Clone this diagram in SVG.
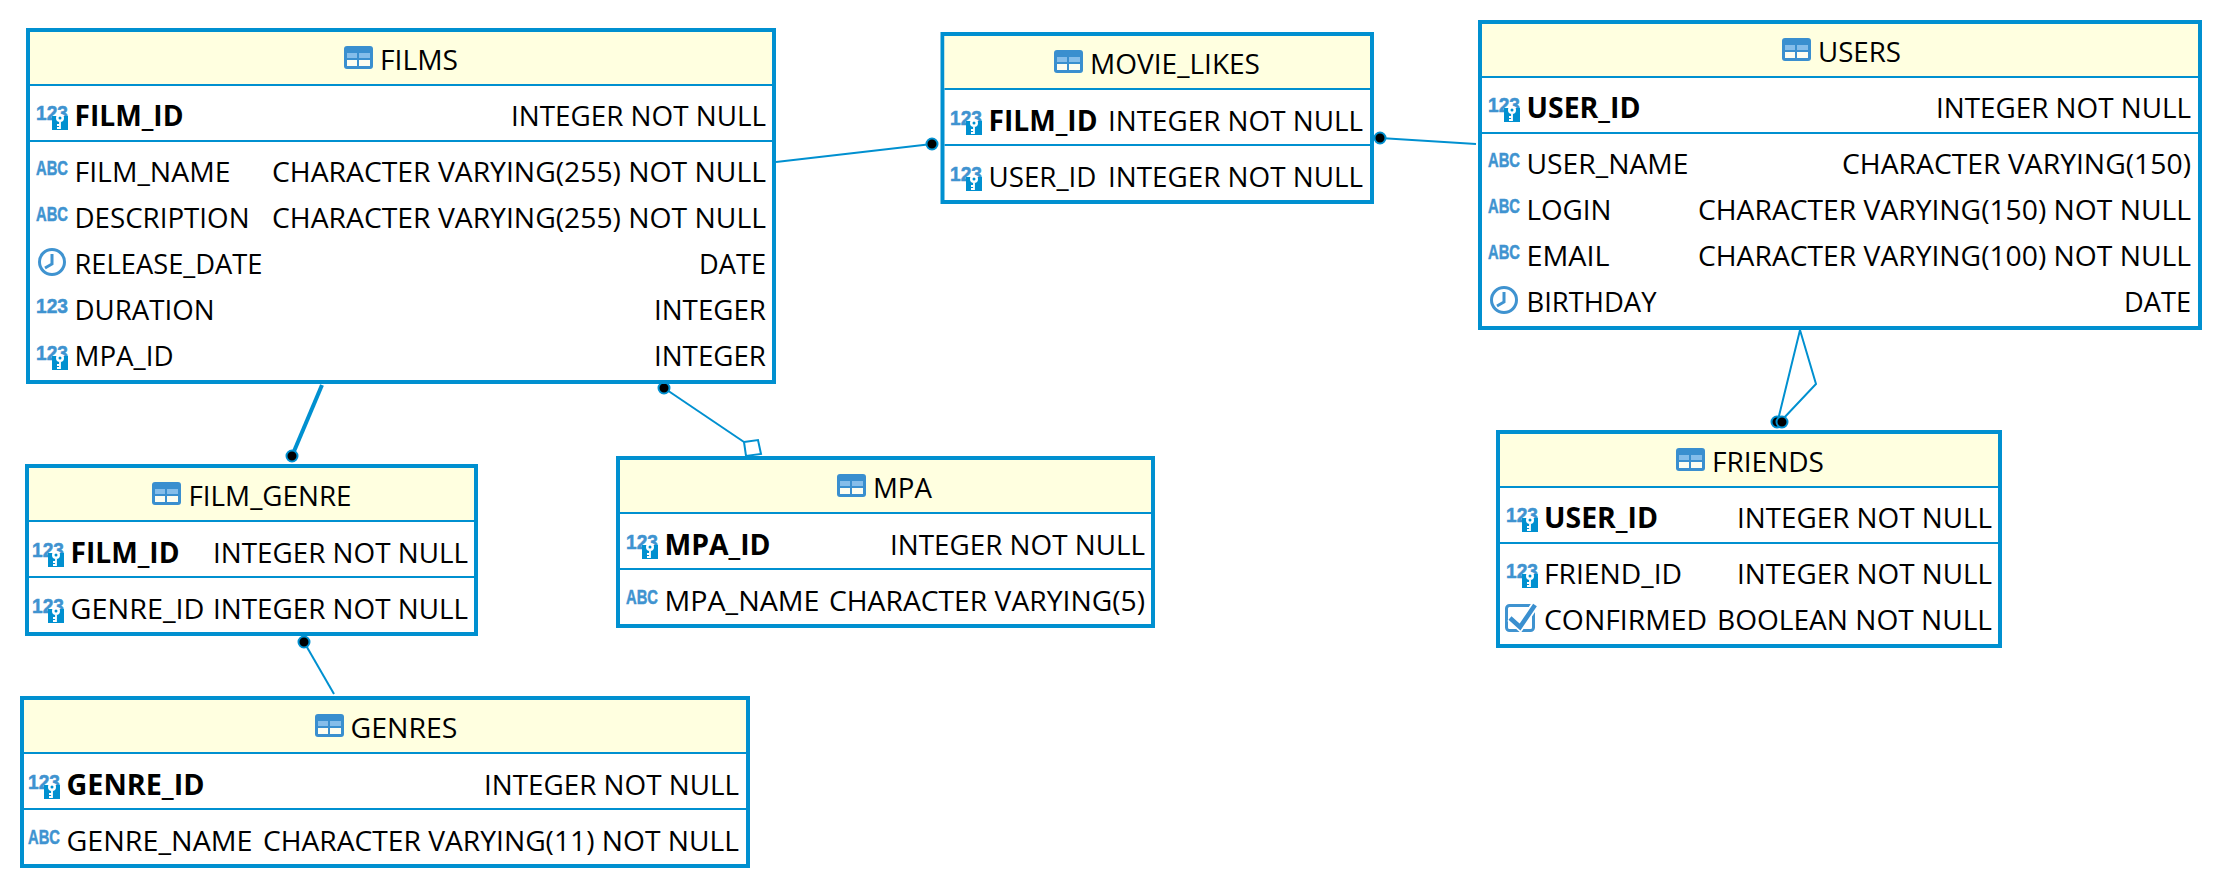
<svg xmlns="http://www.w3.org/2000/svg" width="2222" height="888" viewBox="0 0 2222 888">
<style>
text{font-family:"Open Sans","Noto Sans","Liberation Sans",sans-serif;font-size:28px;fill:#000}
.b{font-weight:700}
.e{text-anchor:end}
.box{fill:#fff;stroke:#0090d0;stroke-width:4}
.hd{fill:#ffffe0}
.sep{stroke:#0090d0;stroke-width:2;fill:none}
.c{stroke:#0090d0;stroke-width:2;fill:none}
.dot{fill:#000;stroke:#0090d0;stroke-width:2}
.ic{font-family:"Liberation Sans",Arial,sans-serif;font-size:20px;font-weight:700;fill:#3f93d0;stroke:#3f93d0;stroke-width:.5}
</style>
<defs>
<g id="t"><rect width="29" height="23" rx="3" fill="#3a8fcf"/><rect x="3" y="7" width="10" height="5" fill="#85bdea"/><rect x="15" y="7" width="11" height="5" fill="#85bdea"/><rect x="3" y="14" width="10" height="6" fill="#fdfdf0"/><rect x="15" y="14" width="11" height="6" fill="#fdfdf0"/></g>
<g id="n"><text class="ic" y="-6" textLength="32" lengthAdjust="spacingAndGlyphs">123</text></g>
<g id="k"><text class="ic" y="-5" textLength="32" lengthAdjust="spacingAndGlyphs">123</text><rect x="16" y="-9" width="16" height="14" fill="#0090d0"/><circle cx="24" cy="-7" r="4" fill="#fff"/><circle cx="24" cy="-7" r="1.500" fill="#0090d0"/><path d="M24-3V4M24 0h-3M24 3h-3" stroke="#fff" stroke-width="1.800" fill="none"/></g>
<g id="a"><text class="ic" y="-6" textLength="32" lengthAdjust="spacingAndGlyphs">ABC</text></g>
<g id="w"><circle cx="16" cy="-11" r="12.500" fill="none" stroke="#3f93d0" stroke-width="3"/><path d="M16-19V-9L9-5" fill="none" stroke="#3f93d0" stroke-width="3"/></g>
<g id="q"><rect x="2.500" y="-23.500" width="27" height="25" rx="3" fill="none" stroke="#3f93d0" stroke-width="3"/><path d="M6-11L16-2L31-24" fill="none" stroke="#fff" stroke-width="8"/><path d="M6-11L16-2L31-24" fill="none" stroke="#3a8fcf" stroke-width="4.500"/></g>
</defs>
<g id="connectors">
<path class="c" d="M776 162L932 144"/>
<circle class="dot" cx="932" cy="144" r="5.500"/>
<path class="c" d="M1380 138L1476 144"/>
<circle class="dot" cx="1380" cy="138" r="5.500"/>
<path class="c" style="stroke-width:4" d="M322 385L292 456"/>
<circle class="dot" cx="292" cy="456" r="5.500"/>
<path class="c" d="M664 388L744 442"/>
<circle class="dot" cx="664" cy="388" r="5.500"/>
<path d="M744 442L758 440L761 454L746 456Z" fill="#fff" stroke="#0090d0" stroke-width="2"/>
<path class="c" d="M304 642L334 694"/>
<circle class="dot" cx="304" cy="642" r="5.500"/>
<path class="c" d="M1778 420L1800 330L1816 384L1782 420"/>
<circle class="dot" cx="1777" cy="422" r="5.500"/>
<circle class="dot" cx="1782" cy="422" r="5.500"/>
</g>
<g id="films">
<rect class="box" x="28" y="30" width="746" height="352"/><rect class="hd" x="30" y="32" width="742" height="52"/>
<path class="sep" d="M30 85H772M30 141H772"/>
<use href="#t" x="344" y="46"/><text x="380" y="70" textLength="78" lengthAdjust="spacingAndGlyphs">FILMS</text>
<use href="#k" x="36" y="125"/><text class="b" x="74.500" y="126" textLength="109" lengthAdjust="spacingAndGlyphs">FILM_ID</text><text class="e" x="766" y="126" textLength="255" lengthAdjust="spacingAndGlyphs">INTEGER NOT NULL</text>
<use href="#a" x="36" y="181"/><text x="74.500" y="182" textLength="156" lengthAdjust="spacingAndGlyphs">FILM_NAME</text><text class="e" x="766" y="182" textLength="494" lengthAdjust="spacingAndGlyphs">CHARACTER VARYING(255) NOT NULL</text>
<use href="#a" x="36" y="227"/><text x="74.500" y="228" textLength="175" lengthAdjust="spacingAndGlyphs">DESCRIPTION</text><text class="e" x="766" y="228" textLength="494" lengthAdjust="spacingAndGlyphs">CHARACTER VARYING(255) NOT NULL</text>
<use href="#w" x="36" y="273"/><text x="74.500" y="274" textLength="188" lengthAdjust="spacingAndGlyphs">RELEASE_DATE</text><text class="e" x="766" y="274" textLength="67" lengthAdjust="spacingAndGlyphs">DATE</text>
<use href="#n" x="36" y="319"/><text x="74.500" y="320" textLength="140" lengthAdjust="spacingAndGlyphs">DURATION</text><text class="e" x="766" y="320" textLength="112" lengthAdjust="spacingAndGlyphs">INTEGER</text>
<use href="#k" x="36" y="365"/><text x="74.500" y="366" textLength="99" lengthAdjust="spacingAndGlyphs">MPA_ID</text><text class="e" x="766" y="366" textLength="112" lengthAdjust="spacingAndGlyphs">INTEGER</text>
</g>
<g id="movie_likes">
<rect class="box" x="942.500" y="34" width="429.500" height="168"/><rect class="hd" x="944.500" y="36" width="425.500" height="52"/>
<path class="sep" d="M944.500 89H1370M944.500 145H1370"/>
<use href="#t" x="1054" y="50"/><text x="1090" y="74" textLength="170" lengthAdjust="spacingAndGlyphs">MOVIE_LIKES</text>
<use href="#k" x="950" y="130"/><text class="b" x="988.500" y="131" textLength="109" lengthAdjust="spacingAndGlyphs">FILM_ID</text><text class="e" x="1363" y="131" textLength="255" lengthAdjust="spacingAndGlyphs">INTEGER NOT NULL</text>
<use href="#k" x="950" y="186"/><text x="988.500" y="187" textLength="108" lengthAdjust="spacingAndGlyphs">USER_ID</text><text class="e" x="1363" y="187" textLength="255" lengthAdjust="spacingAndGlyphs">INTEGER NOT NULL</text>
</g>
<g id="users">
<rect class="box" x="1480" y="22" width="720" height="306"/><rect class="hd" x="1482" y="24" width="716" height="52"/>
<path class="sep" d="M1482 77H2198M1482 133H2198"/>
<use href="#t" x="1782" y="38"/><text x="1818" y="62" textLength="83" lengthAdjust="spacingAndGlyphs">USERS</text>
<use href="#k" x="1488" y="117"/><text class="b" x="1526.500" y="118" textLength="114" lengthAdjust="spacingAndGlyphs">USER_ID</text><text class="e" x="2191" y="118" textLength="255" lengthAdjust="spacingAndGlyphs">INTEGER NOT NULL</text>
<use href="#a" x="1488" y="173"/><text x="1526.500" y="174" textLength="162" lengthAdjust="spacingAndGlyphs">USER_NAME</text><text class="e" x="2191" y="174" textLength="349" lengthAdjust="spacingAndGlyphs">CHARACTER VARYING(150)</text>
<use href="#a" x="1488" y="219"/><text x="1526.500" y="220" textLength="85" lengthAdjust="spacingAndGlyphs">LOGIN</text><text class="e" x="2191" y="220" textLength="493" lengthAdjust="spacingAndGlyphs">CHARACTER VARYING(150) NOT NULL</text>
<use href="#a" x="1488" y="265"/><text x="1526.500" y="266" textLength="83" lengthAdjust="spacingAndGlyphs">EMAIL</text><text class="e" x="2191" y="266" textLength="493" lengthAdjust="spacingAndGlyphs">CHARACTER VARYING(100) NOT NULL</text>
<use href="#w" x="1488" y="311"/><text x="1526.500" y="312" textLength="130" lengthAdjust="spacingAndGlyphs">BIRTHDAY</text><text class="e" x="2191" y="312" textLength="67" lengthAdjust="spacingAndGlyphs">DATE</text>
</g>
<g id="friends">
<rect class="box" x="1498" y="432" width="502" height="214"/><rect class="hd" x="1500" y="434" width="498" height="52"/>
<path class="sep" d="M1500 487H1998M1500 543H1998"/>
<use href="#t" x="1676" y="448"/><text x="1712" y="472" textLength="112" lengthAdjust="spacingAndGlyphs">FRIENDS</text>
<use href="#k" x="1506" y="527"/><text class="b" x="1544" y="528" textLength="114" lengthAdjust="spacingAndGlyphs">USER_ID</text><text class="e" x="1992" y="528" textLength="255" lengthAdjust="spacingAndGlyphs">INTEGER NOT NULL</text>
<use href="#k" x="1506" y="583"/><text x="1544" y="584" textLength="138" lengthAdjust="spacingAndGlyphs">FRIEND_ID</text><text class="e" x="1992" y="584" textLength="255" lengthAdjust="spacingAndGlyphs">INTEGER NOT NULL</text>
<use href="#q" x="1504" y="629"/><text x="1544" y="630" textLength="163" lengthAdjust="spacingAndGlyphs">CONFIRMED</text><text class="e" x="1992" y="630" textLength="275" lengthAdjust="spacingAndGlyphs">BOOLEAN NOT NULL</text>
</g>
<g id="film_genre">
<rect class="box" x="27" y="466" width="449" height="168"/><rect class="hd" x="29" y="468" width="445" height="52"/>
<path class="sep" d="M29 521H474M29 577H474"/>
<use href="#t" x="152" y="482"/><text x="188.500" y="506" textLength="163" lengthAdjust="spacingAndGlyphs">FILM_GENRE</text>
<use href="#k" x="32" y="562"/><text class="b" x="70.500" y="563" textLength="109" lengthAdjust="spacingAndGlyphs">FILM_ID</text><text class="e" x="468" y="563" textLength="255" lengthAdjust="spacingAndGlyphs">INTEGER NOT NULL</text>
<use href="#k" x="32" y="618"/><text x="70.500" y="619" textLength="134" lengthAdjust="spacingAndGlyphs">GENRE_ID</text><text class="e" x="468" y="619" textLength="255" lengthAdjust="spacingAndGlyphs">INTEGER NOT NULL</text>
</g>
<g id="mpa">
<rect class="box" x="618" y="458" width="535" height="168"/><rect class="hd" x="620" y="460" width="531" height="52"/>
<path class="sep" d="M620 513H1151M620 569H1151"/>
<use href="#t" x="837" y="474"/><text x="873" y="498" textLength="59" lengthAdjust="spacingAndGlyphs">MPA</text>
<use href="#k" x="626" y="554"/><text class="b" x="664.500" y="555" textLength="106" lengthAdjust="spacingAndGlyphs">MPA_ID</text><text class="e" x="1145" y="555" textLength="255" lengthAdjust="spacingAndGlyphs">INTEGER NOT NULL</text>
<use href="#a" x="626" y="610"/><text x="664.500" y="611" textLength="155" lengthAdjust="spacingAndGlyphs">MPA_NAME</text><text class="e" x="1145" y="611" textLength="316" lengthAdjust="spacingAndGlyphs">CHARACTER VARYING(5)</text>
</g>
<g id="genres">
<rect class="box" x="22" y="698" width="726" height="168"/><rect class="hd" x="24" y="700" width="722" height="52"/>
<path class="sep" d="M24 753H746M24 809H746"/>
<use href="#t" x="315" y="714"/><text x="350.500" y="738" textLength="107" lengthAdjust="spacingAndGlyphs">GENRES</text>
<use href="#k" x="28" y="794"/><text class="b" x="66.500" y="795" textLength="138" lengthAdjust="spacingAndGlyphs">GENRE_ID</text><text class="e" x="739" y="795" textLength="255" lengthAdjust="spacingAndGlyphs">INTEGER NOT NULL</text>
<use href="#a" x="28" y="850"/><text x="66.500" y="851" textLength="186" lengthAdjust="spacingAndGlyphs">GENRE_NAME</text><text class="e" x="739" y="851" textLength="476" lengthAdjust="spacingAndGlyphs">CHARACTER VARYING(11) NOT NULL</text>
</g>
</svg>
